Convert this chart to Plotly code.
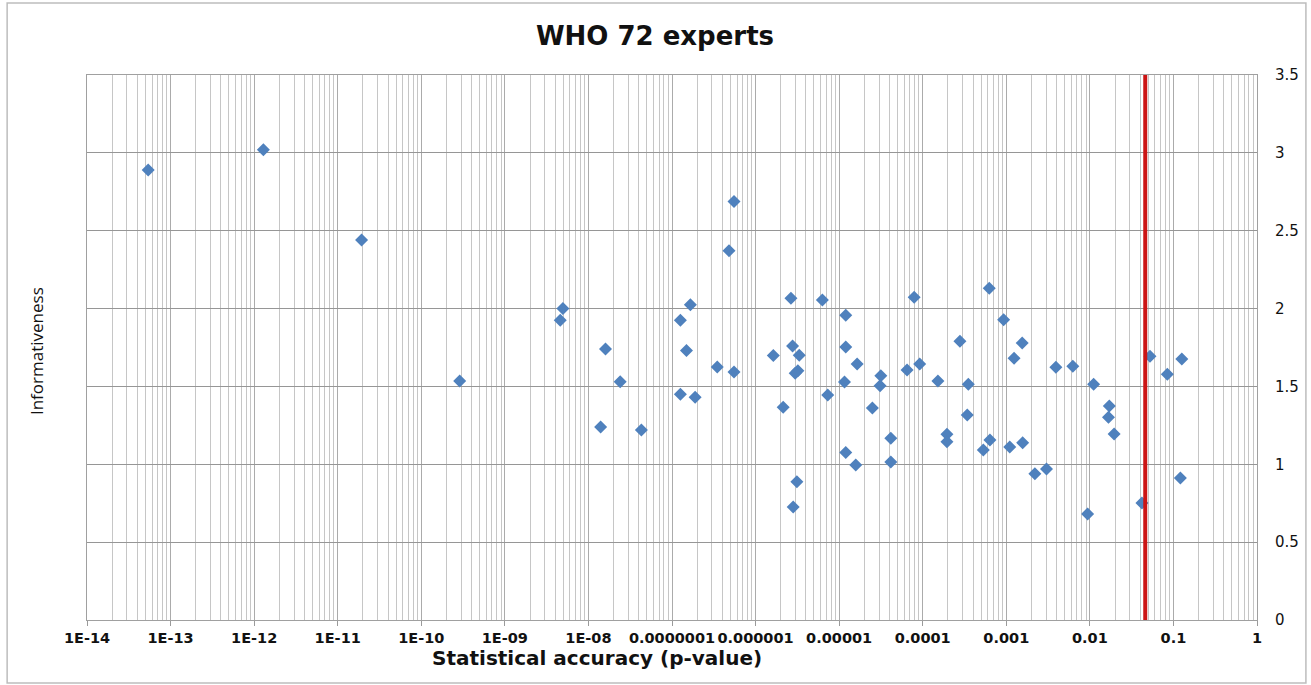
import plotly.graph_objects as go

# ---- data ----
p_values = [
    5.4e-14, 1.29e-12, 1.93e-11, 2.88e-10, 4.95e-9, 4.6e-9, 1.6e-8, 2.4e-8, 1.4e-8, 4.3e-8,
    1.26e-7, 1.66e-7, 1.49e-7, 1.26e-7, 1.89e-7, 3.48e-7, 5.52e-7, 4.81e-7, 5.52e-7, 1.63e-6,
    2.14e-6, 2.65e-6, 2.77e-6, 3.33e-6, 3.21e-6, 2.98e-6, 3.12e-6, 2.82e-6, 6.3e-6, 1.2e-5,
    1.2e-5, 1.64e-5, 1.16e-5, 7.3e-6, 2.5e-5, 1.2e-5, 1.58e-5, 3.15e-5, 3.09e-5, 4.15e-5,
    4.15e-5, 7.9e-5, 6.5e-5, 9.2e-5, 1.52e-4, 1.95e-4, 1.95e-4, 2.79e-4, 3.51e-4, 3.41e-4,
    6.25e-4, 5.31e-4, 6.37e-4, 9.3e-4, 1.55e-3, 1.24e-3, 1.1e-3, 1.57e-3, 2.2e-3, 3.03e-3,
    3.92e-3, 6.25e-3, 1.11e-2, 9.4e-3, 1.71e-2, 1.67e-2, 1.95e-2, 4.2e-2, 5.24e-2, 8.45e-2,
    0.126, 0.121,
]
informativeness = [
    2.89, 3.02, 2.44, 1.535, 2.00, 1.925, 1.74, 1.53, 1.24, 1.22,
    1.925, 2.025, 1.73, 1.45, 1.43, 1.625, 2.687, 2.372, 1.593, 1.698,
    1.366, 2.066, 1.76, 1.70, 1.60, 1.584, 0.888, 0.726, 2.055, 1.957,
    1.753, 1.644, 1.529, 1.445, 1.362, 1.075, 0.996, 1.569, 1.505, 1.167,
    1.015, 2.073, 1.606, 1.644, 1.535, 1.193, 1.145, 1.79, 1.514, 1.317,
    2.13, 1.092, 1.156, 1.929, 1.779, 1.681, 1.111, 1.139, 0.94, 0.97,
    1.623, 1.629, 1.514, 0.681, 1.374, 1.302, 1.195, 0.751, 1.694, 1.578,
    1.676, 0.912,
]
threshold_p = 0.046
y_line = [0, 3.5]

x_tick_vals = [1e-14, 1e-13, 1e-12, 1e-11, 1e-10, 1e-9, 1e-8, 1e-7, 1e-6,
               1e-5, 1e-4, 1e-3, 1e-2, 1e-1, 1]
x_tick_text = ["1E-14", "1E-13", "1E-12", "1E-11", "1E-10", "1E-09", "1E-08",
               "0.0000001", "0.000001", "0.00001", "0.0001", "0.001", "0.01", "0.1", "1"]
y_tick_vals = [0, 0.5, 1, 1.5, 2, 2.5, 3, 3.5]
y_tick_text = ["0", "0.5", "1", "1.5", "2", "2.5", "3", "3.5"]

title_text = "WHO 72 experts"
x_title = "Statistical accuracy (p-value)"
y_title = "Informativeness"

W, H = 1311, 685
ML, MR, MT, MB = 87, 52, 75, 65
PW, PH = W - ML - MR, H - MT - MB

fig = go.Figure()
fig.add_trace(go.Scatter(
    x=p_values, y=informativeness, mode="markers",
    marker=dict(symbol="diamond", size=10, color="#4F81BD",
                line=dict(width=0)),
    showlegend=False, hoverinfo="x+y",
))
fig.add_trace(go.Scatter(
    x=[threshold_p, threshold_p], y=y_line, mode="lines",
    line=dict(color="#CC1414", width=4), showlegend=False, hoverinfo="skip",
))

tick_font = dict(family="DejaVu Sans", size=14.5, color="#111111", weight="bold")

fig.update_layout(
    width=W, height=H,
    margin=dict(l=ML, r=MR, t=MT, b=MB),
    paper_bgcolor="white", plot_bgcolor="white",
    title=dict(text=title_text, x=655 / W, xanchor="center", y=1 - 36 / H,
               yanchor="middle", xref="container", yref="container",
               font=dict(family="DejaVu Sans", size=26, color="#111111", weight="bold")),
    xaxis=dict(
        type="log", range=[-14, 0],
        tickmode="array", tickvals=x_tick_vals, ticktext=x_tick_text,
        tickfont=tick_font, tickangle=0, ticks="outside", ticklen=5, tickcolor="#9a9a9a",
        showgrid=True, gridcolor="#ABABAB", gridwidth=1,
        minor=dict(dtick="D1", showgrid=True, gridcolor="#C6C6C6", gridwidth=1,
                   ticks=""),
        showline=True, linecolor="#A0A0A0", linewidth=1, mirror=True,
        zeroline=False,
    ),
    yaxis=dict(
        side="right", range=[0, 3.5],
        tickmode="array", tickvals=y_tick_vals, ticktext=y_tick_text,
        tickfont=dict(family="DejaVu Sans", size=15, color="#111111"),
        ticks="", ticklabelstandoff=14,
        showgrid=True, gridcolor="#969696", gridwidth=1.4,
        showline=True, linecolor="#A0A0A0", linewidth=1, mirror=True,
        zeroline=False,
    ),
    annotations=[
        dict(text=x_title, xref="paper", yref="paper",
             x=(598 - ML) / PW, y=(PH + MT - 658) / PH,
             xanchor="center", yanchor="middle", showarrow=False,
             font=dict(family="DejaVu Sans", size=20, color="#111111", weight="bold")),
        dict(text=y_title, xref="paper", yref="paper",
             x=(36 - ML) / PW, y=(PH + MT - 351) / PH, textangle=-90,
             xanchor="center", yanchor="middle", showarrow=False,
             font=dict(family="Open Sans", size=17, color="#111111")),
    ],
    shapes=[
        dict(type="rect", xref="paper", yref="paper",
             x0=(7 - ML) / PW, x1=(1308 - ML) / PW,
             y0=(PH + MT - 683) / PH, y1=(PH + MT - 3) / PH,
             line=dict(color="#BDBDBD", width=1.5), fillcolor="rgba(0,0,0,0)",
             layer="below"),
    ],
)

fig.write_html("out.html")
